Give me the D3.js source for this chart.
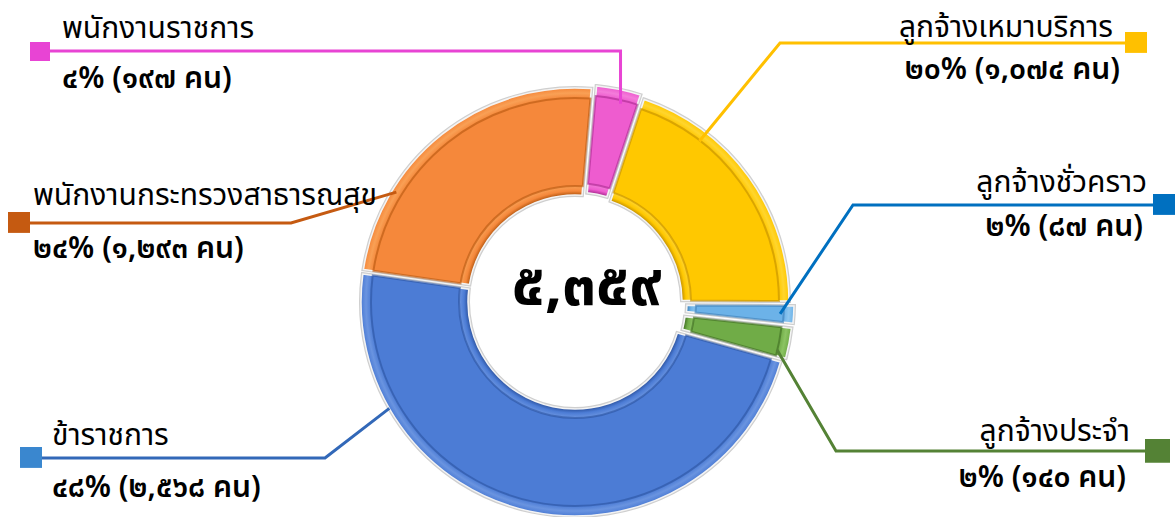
<!DOCTYPE html>
<html><head><meta charset="utf-8">
<script src="https://cdn.jsdelivr.net/npm/d3@7/dist/d3.min.js"></script>
<style>
html,body{margin:0;padding:0;background:#fff;}
svg{display:block;}
text{font-family:"Noto Sans Thai","Tahoma","Loma","Noto Sans",sans-serif;fill:#000;}
</style></head>
<body><svg id="c" width="1175" height="517"></svg>
<script>
// ---- data ----
const categories = ["พนักงานราชการ","ลูกจ้างเหมาบริการ","ลูกจ้างชั่วคราว","ลูกจ้างประจำ","ข้าราชการ","พนักงานกระทรวงสาธารณสุข"];
const values = [197, 1074, 87, 140, 2568, 1293];
const percents = [4, 20, 2, 2, 48, 24];
const unitLabel = "คน";

// ---- styles / layout ----
const rimColors  = ["#F47CDA","#FFD52E","#8DC6EF","#8CC463","#6A94E0","#F9A055"];
const faceColors = ["#EE5CCF","#FFC800","#6CB2E8","#70AC47","#4C7CD5","#F5883B"];
const darkColors = ["#A8288E","#C28E00","#3C7DB5","#3E6B22","#2C53A0","#B5570F"];
const lineColors = ["#E844D4","#FFC000","#0070C0","#548235","#3268B8","#C55A11"];
const markColors = ["#E844D4","#FFC000","#0070C0","#548235","#3A87CF","#C55A11"];
const layout = [
  {side:"L", tx:62,  ny:38,  py:88,  mx:30,   my:42,  ms:20, ly:51,  ex:null, t:0.60, r:0.95, off:3},
  {side:"R", tx:1113,ny:37,  py:79,  mx:1125, my:32,  ms:22, ly:43,  ex:780,  t:0.27, r:0.95, off:0},
  {side:"R", tx:1147,ny:192, py:236, mx:1153, my:194, ms:22, ly:205, ex:853,  t:0.50, r:0.96, off:5},
  {side:"R", tx:1130,ny:441, py:487, mx:1145, my:439, ms:25, ly:451, ex:836,  t:0.75, r:0.97, off:4},
  {side:"L", tx:52,  ny:445, py:497, mx:20,   my:447, ms:22, ly:458, ex:325,  t:0.78, r:1.00, off:0},
  {side:"L", tx:33,  ny:205, py:258, mx:8,    my:212, ms:22, ly:223, ex:291,  t:0.27, r:0.98, off:0}
];

const thaiDigits = "๐๑๒๓๔๕๖๗๘๙";
const toThai = s => String(s).replace(/[0-9]/g, d => thaiDigits[+d]);

const svg = d3.select("#c");
const cx = 575, cy = 302, R = 214, r0 = 107;
const g = svg.append("g").attr("transform", `translate(${cx},${cy})`);

const start = 5 * Math.PI / 180;
const pie = d3.pie().sort(null).value(d => d).startAngle(start).endAngle(start + 2 * Math.PI);
const arcs = pie(values);

const base = d3.arc().innerRadius(r0).outerRadius(R).padAngle(0.022).padRadius(R);
const face = d3.arc().innerRadius(r0 + 9).outerRadius(R - 10).padAngle(0.022).padRadius(R);

const defs = svg.append("defs");
arcs.forEach((a, i) => {
  const gr = defs.append("radialGradient").attr("id", "rg" + i)
    .attr("gradientUnits", "userSpaceOnUse").attr("cx", 0).attr("cy", 0).attr("r", R);
  gr.append("stop").attr("offset", r0 / R).attr("stop-color", darkColors[i]);
  gr.append("stop").attr("offset", (r0 + 4) / R).attr("stop-color", faceColors[i]);
  gr.append("stop").attr("offset", (r0 + 9) / R).attr("stop-color", rimColors[i]);
  gr.append("stop").attr("offset", (R - 10) / R).attr("stop-color", faceColors[i]);
  gr.append("stop").attr("offset", (R - 5) / R).attr("stop-color", rimColors[i]);
  gr.append("stop").attr("offset", 1).attr("stop-color", faceColors[i]);
});

const sl = g.selectAll("g.slice").data(arcs).enter().append("g")
  .attr("transform", (d, i) => {
    const m = (d.startAngle + d.endAngle) / 2, o = layout[i].off;
    return `translate(${o * Math.sin(m)},${-o * Math.cos(m)})`;
  });
// gray outline
sl.append("path").attr("d", base).attr("fill", "none").attr("stroke", "#cfcfcf").attr("stroke-width", 4);
sl.append("path").attr("d", base).attr("fill", (d, i) => `url(#rg${i})`).attr("stroke", "#f4f4f4").attr("stroke-width", 1.5);
sl.append("path").attr("d", face).attr("fill", (d, i) => faceColors[i])
  .attr("stroke", (d, i) => darkColors[i]).attr("stroke-opacity", 0.6).attr("stroke-width", 2);

// center total
const total = d3.sum(values);
svg.append("text").attr("x", cx + 12).attr("y", cy + 3).attr("text-anchor", "middle")
  .attr("font-size", 60).attr("font-weight", "bold").text(toThai(d3.format(",")(total)));

// leaders & labels
arcs.forEach((a, i) => {
  const L = layout[i];
  const ang = a.startAngle + (a.endAngle - a.startAngle) * L.t;
  const ax = cx + R * L.r * Math.sin(ang), ay = cy - R * L.r * Math.cos(ang);
  const ex = L.ex === null ? ax : L.ex;
  const mEdge = L.side === "L" ? L.mx + L.ms : L.mx;
  svg.append("path").attr("d", `M${mEdge},${L.ly}L${ex},${L.ly}L${ax},${ay}`)
    .attr("fill", "none").attr("stroke", lineColors[i]).attr("stroke-width", 3);
  svg.append("rect").attr("x", L.mx).attr("y", L.my).attr("width", L.ms).attr("height", L.ms * 0.95)
    .attr("fill", markColors[i]);
  const anchor = L.side === "L" ? "start" : "end";
  svg.append("text").attr("x", L.tx).attr("y", L.ny).attr("text-anchor", anchor)
    .attr("font-size", 30).text(categories[i]);
  svg.append("text").attr("x", L.side === "L" ? L.tx : L.tx + (i === 1 ? 7 : -4)).attr("y", L.py).attr("text-anchor", anchor)
    .attr("font-size", 30).attr("font-weight", 600)
    .text(toThai(`${percents[i]}% (${d3.format(",")(values[i])} ${unitLabel})`));
});
</script></body></html>
